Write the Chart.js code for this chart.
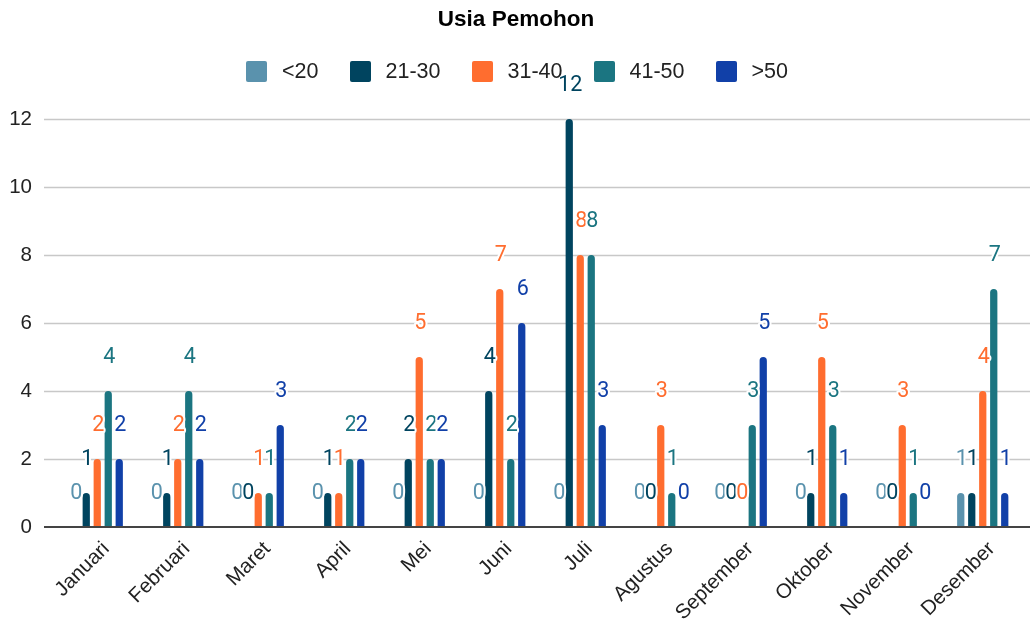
<!DOCTYPE html>
<html>
<head>
<meta charset="utf-8">
<script src="https://cdn.jsdelivr.net/npm/chart.js@4"></script>
<style>
  body{margin:0;background:#fff;}
  #wrap{position:relative;width:1030px;height:627px;}
  #title{position:absolute;top:6px;left:0;width:1032px;text-align:center;font:bold 22.5px "Liberation Sans",Arial,sans-serif;color:#000;}
  #legend{position:absolute;top:59px;left:0;width:1034px;display:flex;justify-content:center;font:21.5px "Liberation Sans",Arial,sans-serif;color:#222;}
  .item{display:flex;align-items:center;margin:0 15.5px;}
  .box{width:21px;height:21px;border-radius:2px;margin-right:15px;}
  canvas{position:absolute;left:0;top:0;}
</style>
</head>
<body>
<div id="wrap">
  <canvas id="chart" width="1030" height="627"></canvas>
  <div id="title">Usia Pemohon</div>
  <div id="legend"></div>
</div>
<script>
// ----------------- DATA -----------------
const months = ['Januari','Februari','Maret','April','Mei','Juni','Juli','Agustus','September','Oktober','November','Desember'];
const seriesNames = ['<20','21-30','31-40','41-50','>50'];
const under20  = [0,0,0,0,0,0,0,0,0,0,0,1];
const age21_30 = [1,1,0,1,2,4,12,0,0,1,0,1];
const age31_40 = [2,2,1,1,5,7,8,3,0,5,3,4];
const age41_50 = [4,4,1,2,2,2,8,1,3,3,1,7];
const over50   = [2,2,3,2,2,6,3,0,5,1,0,1];
const yTicks   = [0,2,4,6,8,10,12];
const colors   = ['#5a92ad','#00445f','#ff6d2f','#1b7581','#1140a8'];
// ----------------------------------------

const values = [under20, age21_30, age31_40, age41_50, over50];

// html legend
const leg = document.getElementById('legend');
seriesNames.forEach((n,i)=>{
  const it = document.createElement('div');
  it.className = 'item';
  it.innerHTML = `<span class="box" style="background:${colors[i]}"></span><span></span>`;
  it.lastChild.textContent = n;
  leg.appendChild(it);
});

// gridlines drawn across the full width, plus dark baseline
const gridPlugin = {
  id:'fullGrid',
  beforeDatasetsDraw(chart){
    const {ctx, scales:{y}} = chart;
    ctx.save();
    yTicks.forEach(t=>{
      if(t===0) return;
      const py = Math.round(y.getPixelForValue(t)) + 0.5;
      ctx.strokeStyle = '#c8c8c8';
      ctx.lineWidth = 1.5;
      ctx.beginPath(); ctx.moveTo(44, py); ctx.lineTo(chart.width, py); ctx.stroke();
    });
    ctx.restore();
  },
  afterDatasetsDraw(chart){
    const {ctx, scales:{y}} = chart;
    const py = y.getPixelForValue(0);
    ctx.save();
    ctx.strokeStyle = '#444';
    ctx.lineWidth = 2;
    ctx.beginPath(); ctx.moveTo(44, py); ctx.lineTo(chart.width, py); ctx.stroke();
    ctx.restore();
  }
};

// value labels, one unit above each bar
const labelPlugin = {
  id:'valLabels',
  afterDatasetsDraw(chart){
    const {ctx, scales:{y}} = chart;
    const unit = y.getPixelForValue(0) - y.getPixelForValue(1);
    ctx.save();
    ctx.font = '21.5px Roboto, sans-serif';
    ctx.textAlign = 'center';
    ctx.textBaseline = 'middle';
    ctx.lineJoin = 'round';
    chart.data.datasets.forEach((ds, di)=>{
      chart.getDatasetMeta(di).data.forEach((bar, i)=>{
        const v = ds.data[i];
        const py = y.getPixelForValue(v) - unit + 1;
        ctx.strokeStyle = '#fff';
        ctx.lineWidth = 4;
        ctx.strokeText(String(v), bar.x + 1, py);
        ctx.fillStyle = ds.backgroundColor;
        ctx.fillText(String(v), bar.x + 1, py);
      });
    });
    ctx.restore();
  }
};

new Chart(document.getElementById('chart'), {
  type:'bar',
  data:{
    labels: months,
    datasets: seriesNames.map((n,i)=>({
      label:n,
      data:values[i],
      backgroundColor:colors[i],
      borderRadius:{topLeft:4, topRight:4},
      categoryPercentage:0.683,
      barPercentage:0.66
    }))
  },
  options:{
    responsive:false,
    animation:false,
    layout:{padding:{top:119,right:7,bottom:0,left:0}},
    plugins:{legend:{display:false}, title:{display:false}, tooltip:{enabled:false}},
    scales:{
      x:{
        grid:{display:false, drawTicks:false},
        border:{display:false},
        ticks:{maxRotation:45, minRotation:45, padding:10, labelOffset:9, color:'#222', font:{family:'"Liberation Sans", Arial, sans-serif', size:20.5}},
        afterFit(s){ s.height = 100; }
      },
      y:{
        min:0, max:12,
        grid:{display:false, drawTicks:false},
        border:{display:false},
        ticks:{stepSize:2, padding:25, color:'#222', font:{family:'"Liberation Sans", Arial, sans-serif', size:20.5}},
        afterFit(s){ s.width = 57; }
      }
    }
  },
  plugins:[gridPlugin, labelPlugin]
});
</script>
</body>
</html>
